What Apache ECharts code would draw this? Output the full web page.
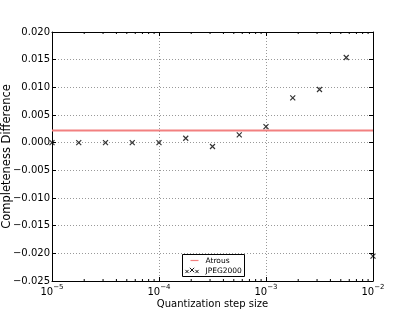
<!DOCTYPE html>
<html><head><meta charset="utf-8">
<script src="https://cdn.jsdelivr.net/npm/echarts@6/dist/echarts.min.js"></script>
<style>html,body{margin:0;padding:0;background:#fff}#c{width:415px;height:312px}</style>
</head><body><div id="c"></div>
<script>
const stepSizes = [1e-5, 1.778e-5, 3.162e-5, 5.623e-5, 1e-4, 1.778e-4, 3.162e-4, 5.623e-4, 1e-3, 1.778e-3, 3.162e-3, 5.623e-3, 1e-2];
const jpeg2000 = [0.0000, 0.0000, 0.0000, 0.0000, 0.0000, 0.0008, -0.0007, 0.0014, 0.0029, 0.0081, 0.0096, 0.0154, -0.0205];
const atrousValue = 0.0022;
const xRange = [1e-5, 1e-2];
const yTicks = [-0.025, -0.020, -0.015, -0.010, -0.005, 0.000, 0.005, 0.010, 0.015, 0.020];
const minorMultipliers = [2, 3, 4, 5, 6, 7, 8, 9];
const decades = [1e-5, 1e-4, 1e-3];
const legendNames = ['Atrous', 'JPEG2000'];

const FONT = 'DejaVu Sans';
const RED = '#f28080';
const minorTicks = [];
decades.forEach(d => minorMultipliers.forEach(m => minorTicks.push([m * d])));

const xFmt = v => {
  const e = Math.round(Math.log10(v));
  return '{b|10}{s|' + String(e).replace('-', '\u2212') + '}';
};
const yFmt = v => {
  const s = v.toFixed(3);
  return (Math.abs(v) < 1e-9 ? '0.000' : s.replace('-', '\u2212'));
};
const xPath = 'path://M0,0L10,10M10,0L0,10';
const chart = echarts.init(document.getElementById('c'), null, {renderer: 'canvas'});
const axisLineStyle = {color: '#000', width: 1};

// legend drawn as graphic
const LX = 182, LY = 254, LW = 62, LH = 22;
const legendGraphic = [
  {type: 'rect', shape: {x: LX + 0.5, y: LY + 0.5, width: LW, height: LH}, style: {fill: '#fff', stroke: '#000', lineWidth: 1}, z: 100},
  {type: 'line', shape: {x1: LX + 8.5, y1: LY + 6.5, x2: LX + 16.5, y2: LY + 6.5}, style: {stroke: RED, lineWidth: 1.2}, z: 101},
  {type: 'text', style: {x: LX + 23.5, y: LY + 7, text: legendNames[0], font: '7.5px "DejaVu Sans"', fill: '#000', verticalAlign: 'middle'}, z: 101},
  {type: 'text', style: {x: LX + 23.5, y: LY + 17, text: legendNames[1], font: '7.5px "DejaVu Sans"', fill: '#000', verticalAlign: 'middle'}, z: 101}
];
[[LX + 5, LY + 17.5, 1.6], [LX + 10, LY + 16, 2.2], [LX + 15, LY + 17.5, 1.6]].forEach(([cx, cy, r]) => {
  legendGraphic.push({type: 'line', shape: {x1: cx - r, y1: cy - r, x2: cx + r, y2: cy + r}, style: {stroke: '#000', lineWidth: 0.9}, z: 102});
  legendGraphic.push({type: 'line', shape: {x1: cx + r, y1: cy - r, x2: cx - r, y2: cy + r}, style: {stroke: '#000', lineWidth: 0.9}, z: 102});
});

chart.setOption({
  animation: false,
  backgroundColor: '#fff',
  textStyle: {fontFamily: FONT},
  grid: {left: 52, right: 42, top: 32, bottom: 31, containLabel: false, outerBoundsMode: 'none'},
  xAxis: [{
    type: 'log', logBase: 10, min: xRange[0], max: xRange[1],
    name: 'Quantization step size', nameLocation: 'middle', nameGap: 18, nameMoveOverlap: false,
    nameTextStyle: {fontFamily: FONT, fontSize: 10, color: '#000'},
    axisLine: {show: true, onZero: false, lineStyle: axisLineStyle},
    axisTick: {show: true, inside: true, length: 4, lineStyle: {color: '#000'}},
    axisLabel: {formatter: xFmt, margin: 3, rich: {
      b: {fontFamily: FONT, fontSize: 10, color: '#000', padding: [3, 0, 0, 0]},
      s: {fontFamily: FONT, fontSize: 7, color: '#000', verticalAlign: 'top', padding: [0, 0, 6, 0]}
    }},
    splitLine: {show: true, lineStyle: {color: '#999', type: [1, 2], width: 1}}
  }, {
    type: 'log', logBase: 10, min: xRange[0], max: xRange[1], position: 'top',
    axisLine: {show: true, onZero: false, lineStyle: axisLineStyle},
    axisTick: {show: true, inside: true, length: 4, lineStyle: {color: '#000'}},
    axisLabel: {show: false}, splitLine: {show: false}
  }],
  yAxis: [{
    type: 'value', min: yTicks[0], max: yTicks[yTicks.length - 1], interval: 0.005,
    name: 'Completeness Difference', nameLocation: 'middle', nameGap: 39, nameMoveOverlap: false,
    nameTextStyle: {fontFamily: FONT, fontSize: 11.5, color: '#000'},
    axisLine: {show: true, onZero: false, lineStyle: axisLineStyle},
    axisTick: {show: true, inside: true, length: 4, lineStyle: {color: '#000'}},
    axisLabel: {formatter: yFmt, fontFamily: FONT, fontSize: 10, color: '#000', margin: 2},
    splitLine: {show: true, lineStyle: {color: '#999', type: [1, 2], width: 1}}
  }, {
    type: 'value', min: yTicks[0], max: yTicks[yTicks.length - 1], interval: 0.005, position: 'right',
    axisLine: {show: true, onZero: false, lineStyle: axisLineStyle},
    axisTick: {show: true, inside: true, length: 4, lineStyle: {color: '#000'}},
    axisLabel: {show: false}, splitLine: {show: false}
  }],
  graphic: legendGraphic,
  series: [{
    name: 'Atrous', type: 'line', xAxisIndex: 0, yAxisIndex: 0,
    data: xRange.map(x => [x, atrousValue]), symbol: 'none',
    lineStyle: {color: RED, width: 2}, itemStyle: {color: RED}, z: 3
  }, {
    name: 'JPEG2000', type: 'scatter', xAxisIndex: 0, yAxisIndex: 0,
    data: stepSizes.map((x, i) => [x, jpeg2000[i]]),
    symbol: xPath, symbolSize: 5,
    itemStyle: {color: 'none', borderColor: '#000', borderWidth: 1.2}, z: 4, clip: false
  }, {
    name: 'minor', type: 'custom', xAxisIndex: 0, yAxisIndex: 0, silent: true,
    data: minorTicks, z: 5, clip: false,
    renderItem: (params, api) => {
      const x = api.coord([api.value(0), yTicks[0]])[0];
      const yb = api.coord([xRange[0], yTicks[0]])[1];
      const yt = api.coord([xRange[0], yTicks[yTicks.length - 1]])[1];
      return {type: 'group', children: [
        {type: 'line', shape: {x1: x, y1: yb, x2: x, y2: yb - 2}, style: {stroke: '#000', lineWidth: 1}},
        {type: 'line', shape: {x1: x, y1: yt, x2: x, y2: yt + 2}, style: {stroke: '#000', lineWidth: 1}}
      ]};
    }
  }]
});
</script></body></html>
